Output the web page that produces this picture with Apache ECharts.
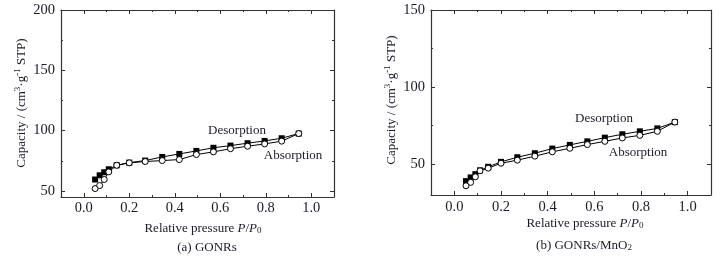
<!DOCTYPE html>
<html>
<head>
<meta charset="utf-8">
<script src="https://cdn.jsdelivr.net/npm/echarts@6/dist/echarts.min.js"></script>
<style>
  html, body { margin: 0; padding: 0; background: #fff; }
  #chart { width: 724px; height: 258px; }
</style>
</head>
<body>
<div id="chart"></div>
<script>
// relative pressure P/P0, shared by every curve
const pressure = [0.05, 0.07, 0.09, 0.11, 0.145, 0.2, 0.27, 0.345, 0.42, 0.495, 0.57, 0.645, 0.72, 0.795, 0.87, 0.945]

// (a) GONRs
const gonrsAbsorption = [52.0, 54.5, 59.5, 65.8, 71.3, 73.3, 74.4, 75.2, 76.0, 80.2, 82.4, 85.0, 87.1, 89.0, 91.3, 97.6]
const gonrsDesorption = [59.5, 63.0, 65.5, 68.0, 71.3, 73.5, 75.2, 78.2, 80.7, 83.2, 85.8, 87.6, 89.6, 91.5, 93.7, 97.6]

// (b) GONRs/MnO2
const mnAbsorption = [36.0, 38.2, 41.8, 45.7, 47.4, 50.6, 52.6, 55.2, 58.0, 60.3, 62.7, 64.8, 67.0, 68.7, 71.3, 77.3]
const mnDesorption = [39.0, 41.4, 43.5, 46.0, 48.3, 51.5, 54.5, 57.1, 60.1, 62.5, 64.8, 67.2, 69.4, 71.3, 73.2, 77.3]

// tick values
const xMajor = [0, 0.2, 0.4, 0.6, 0.8, 1.0]
const xMinor = [0.1, 0.3, 0.5, 0.7, 0.9]
const yMajorA = [50, 100, 150, 200]
const yMinorA = [75, 125, 175]
const yMajorB = [50, 100, 150]
const yMinorB = [75, 125]

const FONT = '"Liberation Serif", "Times New Roman", serif'
const INK = '#1a1a2a'
const FRAME = '#333'

// 4 axes for one side pair: main (with labels), its minor ticks, the mirror and its minor ticks
function makeAxes(gridIndex, pos, mirrorPos, min, max, major, minor, labelMargin) {
  const base = { type: 'value', gridIndex, min, max, splitLine: { show: false } }
  const line = { show: true, onZero: false, lineStyle: { color: FRAME, width: 1.2 } }
  const noLine = { show: false, onZero: false }
  return [
    Object.assign({}, base, {
      position: pos,
      axisLine: line,
      axisTick: { show: true, inside: true, length: 4, customValues: major, lineStyle: { color: FRAME } },
      axisLabel: {
        show: true, customValues: major, margin: labelMargin,
        fontFamily: FONT, fontSize: 14.5, color: INK,
        formatter: v => pos === 'bottom' ? v.toFixed(1) : String(v)
      }
    }),
    Object.assign({}, base, {
      position: pos,
      axisLine: noLine,
      axisTick: { show: true, inside: true, length: 2, customValues: minor, lineStyle: { color: FRAME } },
      axisLabel: { show: false }
    }),
    Object.assign({}, base, {
      position: mirrorPos,
      axisLine: line,
      axisTick: { show: true, inside: true, length: 4, customValues: major, lineStyle: { color: FRAME } },
      axisLabel: { show: false }
    }),
    Object.assign({}, base, {
      position: mirrorPos,
      axisLine: noLine,
      axisTick: { show: true, inside: true, length: 2, customValues: minor, lineStyle: { color: FRAME } },
      axisLabel: { show: false }
    })
  ]
}

function pairs(ys) {
  return pressure.map((p, i) => [p, ys[i]])
}

function curve(name, ys, axisIdx, symbol) {
  return {
    name,
    type: 'line',
    xAxisIndex: axisIdx,
    yAxisIndex: axisIdx,
    data: pairs(ys),
    symbol,
    symbolSize: 6,
    showSymbol: true,
    lineStyle: { color: '#000', width: 1 },
    itemStyle: symbol === 'rect'
      ? { color: '#000', borderColor: '#000', borderWidth: 0 }
      : { color: '#fff', borderColor: '#000', borderWidth: 1 },
    animation: false,
    z: symbol === 'rect' ? 2 : 3
  }
}

function txt(x, y, parts, size, rot) {
  return {
    type: 'text', x, y, rotation: rot || 0,
    style: {
      text: parts, fill: INK, font: size + 'px ' + FONT,
      align: 'center', verticalAlign: 'middle',
      rich: {
        sup: { fontSize: 9, fontFamily: FONT, fill: INK, verticalAlign: 'top', lineHeight: 18 },
        sub: { fontSize: 9, fontFamily: FONT, fill: INK, verticalAlign: 'bottom', lineHeight: 13 },
        i: { fontStyle: 'italic', fontSize: size, fontFamily: FONT, fill: INK }
      }
    }
  }
}

const xAxes = makeAxes(0, 'bottom', 'top', -0.1, 1.1, xMajor, xMinor, 4)
  .concat(makeAxes(1, 'bottom', 'top', -0.1, 1.1, xMajor, xMinor, 5))
const yAxes = makeAxes(0, 'left', 'right', 45, 200, yMajorA, yMinorA, 6)
  .concat(makeAxes(1, 'left', 'right', 30, 150, yMajorB, yMinorB, 6))

const yTitle = 'Capacity / (cm{sup|3}·g{sup|-1} STP)'
const xTitle = 'Relative pressure {i|P}/{i|P}{sub|0}'

const option = {
  animation: false,
  grid: [
    { left: 61, top: 10, width: 273, height: 187 },
    { left: 431, top: 10, width: 280, height: 185 }
  ],
  xAxis: xAxes,
  yAxis: yAxes,
  series: [
    curve('Desorption', gonrsDesorption, 0, 'rect'),
    curve('Absorption', gonrsAbsorption, 0, 'circle'),
    curve('Desorption', mnDesorption, 4, 'rect'),
    curve('Absorption', mnAbsorption, 4, 'circle')
  ],
  graphic: [
    txt(22, 103, yTitle, 13, Math.PI / 2),
    txt(392, 100, yTitle, 13, Math.PI / 2),
    txt(203, 229, xTitle, 13),
    txt(585, 224, xTitle, 13),
    txt(207, 248, '(a) GONRs', 13),
    txt(584, 246, '(b) GONRs/MnO{sub|2}', 13),
    txt(237, 131, 'Desorption', 13),
    txt(293, 156, 'Absorption', 13),
    txt(604, 119, 'Desorption', 13),
    txt(638, 153, 'Absorption', 13)
  ]
}

const chart = echarts.init(document.getElementById('chart'))
chart.setOption(option)
</script>
</body>
</html>
